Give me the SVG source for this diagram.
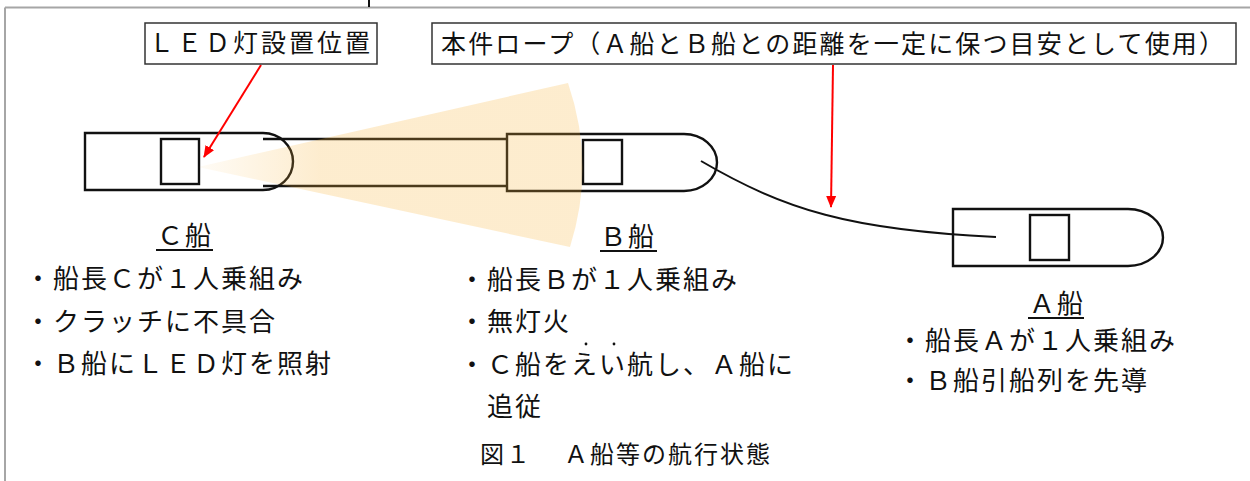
<svg xmlns="http://www.w3.org/2000/svg" width="1250" height="481" viewBox="0 0 1250 481">
  <style>
    .jp { font-family: "Noto Sans CJK JP", "Noto Sans", sans-serif; fill: #111; }
    .t26 { font-size: 26px; letter-spacing: 2px; }
    .lbl { font-size: 25px; }
    .hull { fill: #fff; stroke: #111; stroke-width: 2.4; }
    .cabin { fill: #fff; stroke: #111; stroke-width: 2.4; }
    .box { fill: #fff; stroke: #333; stroke-width: 1.5; }
    .uline { stroke: #111; stroke-width: 2; }
    .red { stroke: #f00; stroke-width: 2; fill: none; }
    .frame { stroke: #a6a6a6; stroke-width: 2; fill: none; }
  </style>
  <defs>
    <marker id="redhead" markerUnits="userSpaceOnUse" markerWidth="12" markerHeight="12" viewBox="0 0 12 12" refX="11" refY="6" orient="auto">
      <path d="M0,1 L12,6 L0,11 Z" fill="#f00"/>
    </marker>
    <linearGradient id="beam" gradientUnits="userSpaceOnUse" x1="200" y1="0" x2="320" y2="0">
      <stop offset="0" stop-color="#f8b43c" stop-opacity="0.05"/>
      <stop offset="1" stop-color="#f8b43c" stop-opacity="0.25"/>
    </linearGradient>
  </defs>

  <rect width="1250" height="481" fill="#fff"/>

  <!-- page frame -->
  <g id="frame">
    <path class="frame" d="M5,7.5 H1250 M5,7.5 V481"/>
    <line x1="369" y1="0" x2="369" y2="7" stroke="#111" stroke-width="2"/>
  </g>

  <!-- ship C (towed, carries the LED light) -->
  <g id="ship-c">
    <path class="hull" d="M85,133 H263 A30,28.5 0 0 1 263,190 H85 Z"/>
    <rect class="cabin" x="161" y="139" width="38" height="45"/>
  </g>

  <!-- tow bar between C and B -->
  <g id="tow">
    <path d="M263,139 H521 M263,186 H521" stroke="#111" stroke-width="2.4" fill="none"/>
  </g>

  <!-- ship B -->
  <g id="ship-b">
    <path class="hull" d="M507,134 H684 A33,28.5 0 0 1 684,191 H507 Z"/>
    <rect class="cabin" x="583" y="140" width="39" height="44"/>
  </g>

  <!-- ship A -->
  <g id="ship-a">
    <path class="hull" d="M953,209 H1128 A35,28.5 0 0 1 1128,266 H953 Z"/>
    <rect class="cabin" x="1030" y="215" width="39" height="45"/>
  </g>

  <!-- LED light beam -->
  <g id="light-beam">
    <path d="M198,167 L568,83 Q596,165 570,247 Z" fill="url(#beam)"/>
  </g>

  <g id="connectors">
    <!-- rope from B to A -->
    <path d="M701,161 C785,210 850,230 996,237" stroke="#111" stroke-width="2" fill="none"/>
    <!-- callout arrows -->
    <line class="red" x1="261" y1="65" x2="204" y2="157" marker-end="url(#redhead)"/>
    <line class="red" x1="833" y1="65" x2="831" y2="207" marker-end="url(#redhead)"/>
  </g>

  <!-- callout boxes -->
  <g id="label-led">
    <rect class="box" x="145" y="23" width="232" height="41"/>
    <text class="jp lbl" x="149" y="52" textLength="221" lengthAdjust="spacing">ＬＥＤ灯設置位置</text>
  </g>
  <g id="label-rope">
    <rect class="box" x="432" y="23" width="804" height="41"/>
    <text class="jp lbl" x="441" y="53" textLength="783" lengthAdjust="spacing">本件ロープ（Ａ船とＢ船との距離を一定に保つ目安として使用）</text>
  </g>

  <!-- notes for C -->
  <g id="notes-c">
    <text class="jp t26" x="157" y="245">Ｃ船</text>
    <line class="uline" x1="156" y1="250" x2="213" y2="250"/>
    <text class="jp t26" x="25" y="288">・船長Ｃが１人乗組み</text>
    <text class="jp t26" x="25" y="331">・クラッチに不具合</text>
    <text class="jp t26" x="25" y="373">・Ｂ船にＬＥＤ灯を照射</text>
  </g>

  <!-- notes for B -->
  <g id="notes-b">
    <text class="jp t26" x="600" y="246">Ｂ船</text>
    <line class="uline" x1="600" y1="251" x2="657" y2="251"/>
    <text class="jp t26" x="459" y="289">・船長Ｂが１人乗組み</text>
    <text class="jp t26" x="459" y="331">・無灯火</text>
    <circle cx="586" cy="344" r="1.4" fill="#111"/>
    <circle cx="614" cy="344" r="1.4" fill="#111"/>
    <text class="jp t26" x="459" y="374">・Ｃ船をえい航し、Ａ船に</text>
    <text class="jp t26" x="487" y="416">追従</text>
  </g>

  <!-- notes for A -->
  <g id="notes-a">
    <text class="jp t26" x="1029" y="313">Ａ船</text>
    <line class="uline" x1="1028" y1="318" x2="1084" y2="318"/>
    <text class="jp t26" x="897" y="350">・船長Ａが１人乗組み</text>
    <text class="jp t26" x="897" y="390">・Ｂ船引船列を先導</text>
  </g>

  <!-- figure caption -->
  <g id="caption">
    <text class="jp" font-size="24" letter-spacing="2" y="463"><tspan x="480">図１</tspan><tspan x="564">Ａ船等の航行状態</tspan></text>
  </g>
</svg>
